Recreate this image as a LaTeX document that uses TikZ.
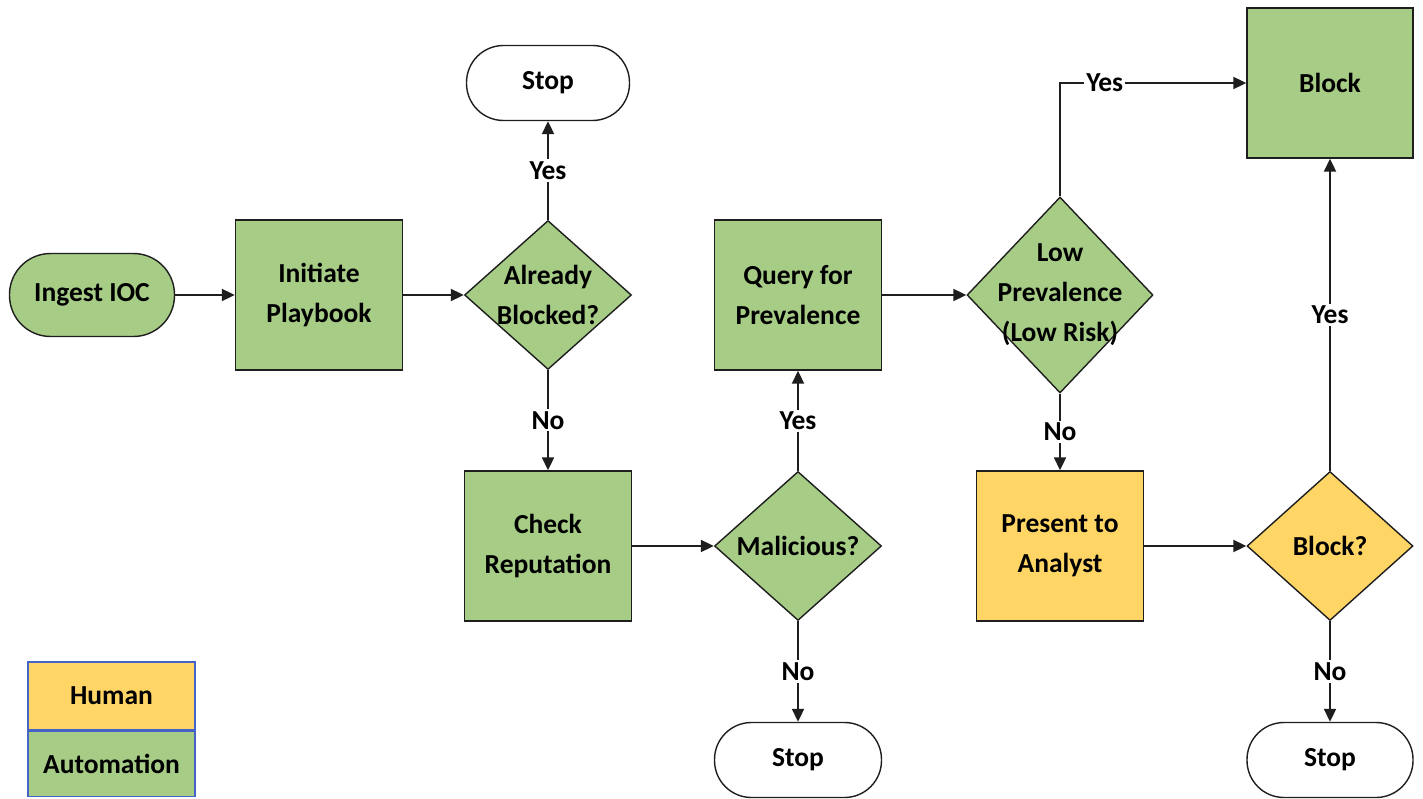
\documentclass[tikz,border=0pt]{standalone}
\usepackage{fontspec}
\setmainfont{Carlito}
\usetikzlibrary{shapes.geometric,arrows.meta}
\definecolor{auto}{RGB}{166,204,134}
\definecolor{human}{RGB}{255,214,102}
\definecolor{edge}{RGB}{30,30,30}
\definecolor{legendblue}{RGB}{70,100,200}
\begin{document}
\begin{tikzpicture}[x=1pt,y=-1pt,
  every node/.style={font=\fontsize{27.5}{40}\selectfont\bfseries, text=black},
  box/.style={draw=edge, line width=1.4pt, rectangle, minimum width=167pt, minimum height=150pt, inner sep=0pt, align=center},
  terminal/.style={draw=edge, line width=1.4pt, rectangle, rounded corners=37pt, minimum width=163pt, minimum height=75pt, inner sep=0pt, fill=white},
  dia/.style={draw=edge, line width=1.4pt, diamond, inner sep=0pt, minimum width=167pt, minimum height=149pt},
  diatext/.style={label={[align=center]center:#1}},
  arr/.style={draw=edge, line width=2pt, -{Triangle[length=13pt,width=12pt]}},
  lbl/.style={fill=white, inner sep=2pt}
]
\useasboundingbox (0,0) rectangle (1423,799);

\node[terminal, fill=auto, minimum width=165pt, minimum height=83pt, rounded corners=41pt] (ingest) at (92,295) {Ingest IOC};
\node[box, fill=auto] (init) at (319,295) {Initiate\\Playbook};
\node[dia, fill=auto, diatext={Already\\Blocked?}] (already) at (548,295) {};
\node[terminal] (stop1) at (548,83) {Stop};
\node[box, fill=auto] (check) at (548,546) {Check\\Reputation};
\node[dia, fill=auto, diatext={Malicious?}] (mal) at (798,546) {};
\node[box, fill=auto] (query) at (798,295) {Query for\\Prevalence};
\node[terminal, minimum width=167pt] (stop2) at (798,760) {Stop};
\node[dia, fill=auto, minimum width=186pt, minimum height=196pt, diatext={Low\\Prevalence\\(Low Risk)}] (lowprev) at (1060,295) {};
\node[box, fill=human] (present) at (1060,546) {Present to\\Analyst};
\node[dia, fill=human, minimum width=166pt, diatext={Block?}] (blockq) at (1330,546) {};
\node[box, fill=auto, minimum width=166pt] (block) at (1330,83) {Block};
\node[terminal, minimum width=166pt] (stop3) at (1330,760) {Stop};

% legend
\node[draw=legendblue, line width=1.2pt, fill=human, minimum width=167pt, minimum height=68pt, inner sep=0pt] (human) at (111.5,696) {Human};
\node[draw=legendblue, line width=1.2pt, fill=auto, minimum width=167pt, minimum height=65pt, inner sep=0pt, anchor=north] (automation) at (human.south) {Automation};

% connectors
\draw[arr] (ingest) -- (init);
\draw[arr] (init) -- (already);
\draw[arr] (already.north) -- node[lbl] {Yes} (stop1.south);
\draw[arr] (already.south) -- node[lbl] {No} (check.north);
\draw[arr] (check) -- (mal);
\draw[arr] (mal.north) -- node[lbl] {Yes} (query.south);
\draw[arr] (mal.south) -- node[lbl] {No} (stop2.north);
\draw[arr] (query) -- (lowprev);
\draw[arr] (lowprev.north) |- node[lbl, pos=0.62] {Yes} (block.west);
\draw[arr] (lowprev.south) -- node[lbl] {No} (present.north);
\draw[arr] (present) -- (blockq);
\draw[arr] (blockq.north) -- node[lbl] {Yes} (block.south);
\draw[arr] (blockq.south) -- node[lbl] {No} (stop3.north);
\end{tikzpicture}
\end{document}
